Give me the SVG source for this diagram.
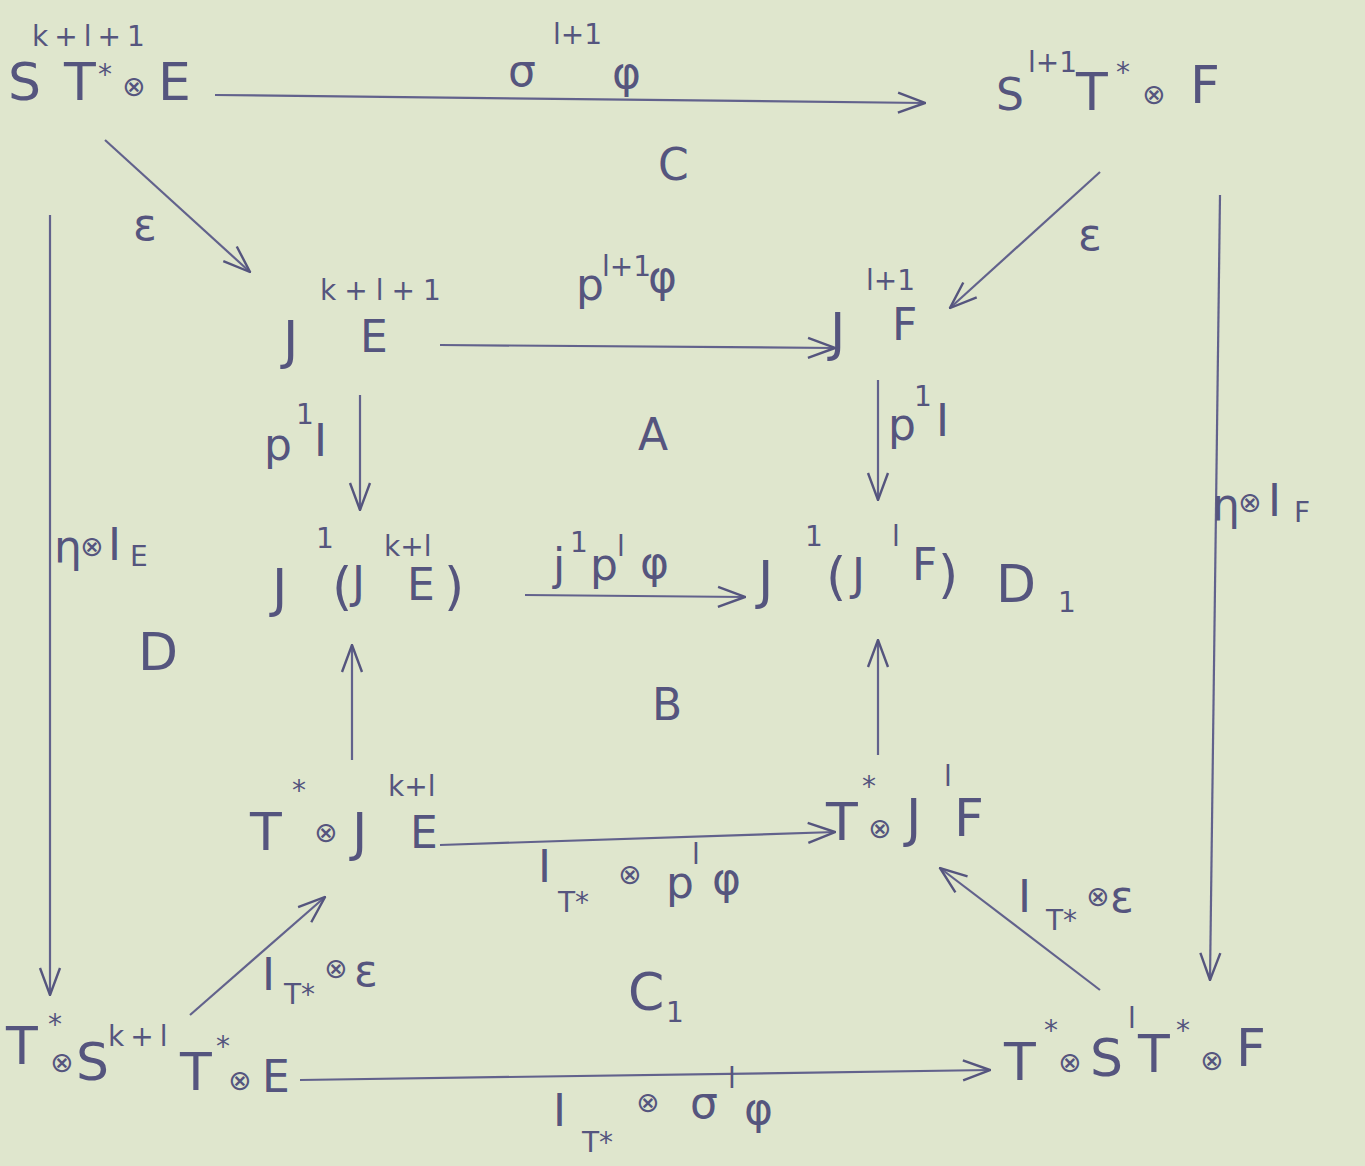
<svg xmlns="http://www.w3.org/2000/svg" width="1365" height="1166" viewBox="0 0 1365 1166">
<defs>
<style>
.t{font-family:"DejaVu Sans",sans-serif;fill:#55557e;}
.b{font-size:52px;}
.m{font-size:44px;}
.s{font-size:28px;}
.e{stroke:#62628c;stroke-width:2.2;fill:none;marker-end:url(#ah);}
</style>
<marker id="ah" viewBox="0 0 30 24" refX="29" refY="12" markerWidth="30" markerHeight="24" orient="auto" markerUnits="userSpaceOnUse">
<path d="M2,2 L29,12 L2,22" fill="none" stroke="#55557e" stroke-width="2.4"/>
</marker>
</defs>
<rect width="1365" height="1166" fill="#dfe6cd"/>

<g id="connectors">
<path class="e" d="M215,95 L925,103"/>
<path class="e" d="M105,140 L250,272"/>
<path class="e" d="M1100,172 L950,308"/>
<path class="e" d="M50,215 L50,995"/>
<path class="e" d="M1220,195 L1210,980"/>
<path class="e" d="M440,345 L835,348"/>
<path class="e" d="M360,395 L360,510"/>
<path class="e" d="M878,380 L878,500"/>
<path class="e" d="M525,595 L745,597"/>
<path class="e" d="M352,760 L352,645"/>
<path class="e" d="M878,755 L878,640"/>
<path class="e" d="M440,845 L835,832"/>
<path class="e" d="M1100,990 L940,868"/>
<path class="e" d="M190,1015 L325,897"/>
<path class="e" d="M300,1080 L990,1070"/>

<g id="labels" class="t">
<text x="508" y="86" class="m">σ</text><text x="553" y="44" class="s">l+1</text><text x="612" y="88" class="m">φ</text>
<text x="658" y="180" class="m">C</text>
<text x="133" y="240" class="m">ε</text>
<text x="1078" y="250" class="m">ε</text>
<text x="576" y="300" class="m">p</text><text x="602" y="276" class="s">l+1</text><text x="648" y="292" class="m">φ</text>
<text x="264" y="460" class="m">p</text><text x="296" y="424" class="s">1</text><text x="314" y="456" class="m">I</text>
<text x="888" y="440" class="m">p</text><text x="914" y="406" class="s">1</text><text x="936" y="436" class="m">I</text>
<text x="638" y="450" class="m">A</text>
<text x="54" y="562" class="m">η</text><text x="80" y="556" class="s">⊗</text><text x="108" y="560" class="m">I</text><text x="130" y="566" class="s">E</text>
<text x="138" y="670" class="b">D</text>
<text x="1212" y="520" class="m">η</text><text x="1238" y="512" class="s">⊗</text><text x="1268" y="516" class="m">I</text><text x="1294" y="522" class="s">F</text>
<text x="553" y="580" class="m">j</text><text x="570" y="552" class="s">1</text><text x="590" y="580" class="m">p</text><text x="617" y="556" class="s">l</text><text x="640" y="578" class="m">φ</text>
<text x="652" y="720" class="m">B</text>
<text x="538" y="882" class="m">I</text><text x="558" y="912" class="s">T*</text><text x="618" y="884" class="s">⊗</text><text x="666" y="898" class="m">p</text><text x="692" y="864" class="s">l</text><text x="712" y="894" class="m">φ</text>
<text x="1018" y="912" class="m">I</text><text x="1046" y="930" class="s">T*</text><text x="1086" y="906" class="s">⊗</text><text x="1110" y="912" class="m">ε</text>
<text x="262" y="990" class="m">I</text><text x="284" y="1004" class="s">T*</text><text x="324" y="978" class="s">⊗</text><text x="354" y="986" class="m">ε</text>
<text x="628" y="1010" class="b">C</text><text x="666" y="1022" class="s">1</text>
<text x="553" y="1126" class="m">I</text><text x="582" y="1152" class="s">T*</text><text x="636" y="1112" class="s">⊗</text><text x="690" y="1118" class="m">σ</text><text x="728" y="1088" class="s">l</text><text x="744" y="1124" class="m">φ</text>
</g>
</g>

<g id="n1" class="t">
<text x="8" y="100" class="b">S</text><text x="32" y="46" class="s" letter-spacing="6">k+l+1</text><text x="64" y="100" class="b">T</text><text x="98" y="84" class="s">*</text><text x="122" y="96" class="s">⊗</text><text x="158" y="100" class="b">E</text>
</g>
<g id="n2" class="t">
<text x="996" y="110" class="m">S</text><text x="1028" y="72" class="s">l+1</text><text x="1076" y="110" class="b">T</text><text x="1116" y="82" class="s">*</text><text x="1142" y="104" class="s">⊗</text><text x="1190" y="103" class="b">F</text>
</g>
<g id="n3" class="t">
<text x="283" y="358" class="b">J</text><text x="320" y="300" class="s" letter-spacing="8">k+l+1</text><text x="360" y="352" class="m">E</text>
</g>
<g id="n4" class="t">
<text x="830" y="350" class="b">J</text><text x="866" y="290" class="s">l+1</text><text x="892" y="340" class="m">F</text>
</g>
<g id="n5" class="t">
<text x="272" y="606" class="b">J</text><text x="316" y="548" class="s">1</text><text x="332" y="604" class="b">(</text><text x="352" y="598" class="m">J</text><text x="384" y="556" class="s">k+l</text><text x="407" y="600" class="m">E</text><text x="444" y="604" class="b">)</text>
</g>
<g id="n6" class="t">
<text x="758" y="598" class="b">J</text><text x="805" y="546" class="s">1</text><text x="826" y="594" class="b">(</text><text x="852" y="590" class="m">J</text><text x="892" y="546" class="s">l</text><text x="912" y="580" class="m">F</text><text x="938" y="592" class="b">)</text>
</g>
<g id="n7" class="t">
<text x="996" y="602" class="b">D</text><text x="1058" y="612" class="s">1</text>
</g>
<g id="n8" class="t">
<text x="250" y="850" class="b">T</text><text x="292" y="800" class="s">*</text><text x="314" y="842" class="s">⊗</text><text x="352" y="850" class="b">J</text><text x="388" y="796" class="s">k+l</text><text x="410" y="848" class="m">E</text>
</g>
<g id="n9" class="t">
<text x="826" y="840" class="b">T</text><text x="862" y="796" class="s">*</text><text x="868" y="838" class="s">⊗</text><text x="906" y="836" class="b">J</text><text x="944" y="786" class="s">l</text><text x="954" y="836" class="b">F</text>
</g>
<g id="n10" class="t">
<text x="6" y="1064" class="b">T</text><text x="48" y="1034" class="s">*</text><text x="50" y="1072" class="s">⊗</text><text x="76" y="1080" class="b">S</text><text x="108" y="1046" class="s" letter-spacing="6">k+l</text><text x="180" y="1090" class="b">T</text><text x="216" y="1056" class="s">*</text><text x="228" y="1090" class="s">⊗</text><text x="262" y="1092" class="m">E</text>
</g>
<g id="n11" class="t">
<text x="1004" y="1080" class="b">T</text><text x="1044" y="1040" class="s">*</text><text x="1058" y="1072" class="s">⊗</text><text x="1090" y="1076" class="b">S</text><text x="1128" y="1028" class="s">l</text><text x="1138" y="1072" class="b">T</text><text x="1176" y="1040" class="s">*</text><text x="1200" y="1070" class="s">⊗</text><text x="1236" y="1066" class="b">F</text>
</g>
</svg>
